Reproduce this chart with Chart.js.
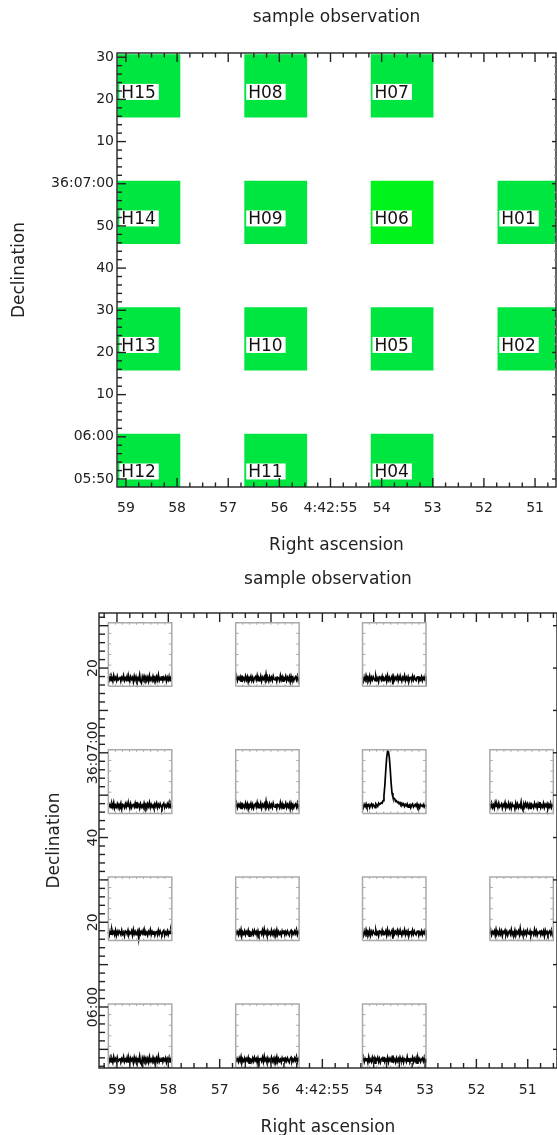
<!DOCTYPE html>
<html>
<head>
<meta charset="utf-8">
<script src="https://cdn.jsdelivr.net/npm/chart.js@4.4.0/dist/chart.umd.min.js"></script>
<style>
  html, body { margin: 0; padding: 0; background: #fff; }
  canvas { display: block; }
</style>
</head>
<body>
<canvas id="mapChart" width="557" height="563"></canvas>
<canvas id="specChart" width="557" height="572"></canvas>
<script>
// pointings: RA in seconds after 4:42:00, Dec in arcsec after 36:00:00
const beamNames = ["H01", "H02", "H04", "H05", "H06", "H07", "H08", "H09", "H10", "H11", "H12", "H13", "H14", "H15"];
const beamRA = [51.12, 51.12, 53.60, 53.60, 53.60, 53.60, 56.07, 56.07, 56.07, 56.07, 58.55, 58.55, 58.55, 58.55];
const beamDec = [413.2, 383.2, 353.2, 383.2, 413.2, 443.2, 443.2, 413.2, 383.2, 353.2, 353.2, 383.2, 413.2, 443.2];
const brightBeam = "H06";

const raTicks = [59, 58, 57, 56, 55, 54, 53, 52, 51];
const raTickLabels = ["59", "58", "57", "56", "4:42:55", "54", "53", "52", "51"];
const decTicks = [350, 360, 370, 380, 390, 400, 410, 420, 430, 440, 450];
const decTickLabels = ["05:50", "06:00", "10", "20", "30", "40", "50", "36:07:00", "10", "20", "30"];
const specDecTicks = [360, 380, 400, 420, 440];
const specDecLabels = ["06:00", "20", "40", "36:07:00", "20"];

// spectra, in percent of the H06 peak
const noiseA = [3, -2, 4, -3, 1, -4, 5, -1, 2, -3, 4, -2, 0, 3, -4, 2, -1, 5, -3, 1, -2, 4, -3, 2, -4, 3, -1, 2, -5, 4, -2, 3, -3, 1, -2, 6, -4, -7, 3, -2, 4, -1, 3, -3, 2, -4, 5, -2, 1, -3, 4, -1, 2, -4, 3, -2, 6, -3, 1, -2, 4, -3, 2, -1, 3, -4, 2, -2, 4, -3, 1, -1];
const noiseB = [-2, 4, -3, 2, -1, 3, -4, 5, -2, 1, -3, 4, -2, 3, -5, 2, 0, 4, -3, 2, -4, 1, 3, -2, 5, -3, 1, -2, 4, -4, 2, -1, 3, -3, 7, -2, 1, -4, 3, -2, 2, -3, 4, -1, -2, 3, -4, 2, 1, -3, 5, -2, 3, -4, 1, -1, 4, -3, 2, -2, 3, -5, 4, -1, 2, -3, 1, 3, -2, 4, -3, 2];
const noiseC = [1, -4, 3, -2, 5, -1, 2, -3, 4, -4, 2, -2, 3, 0, -3, 4, -2, 1, -5, 3, 2, -2, 4, -3, 1, -1, 3, -4, 5, -2, 2, -3, 1, 4, -9, 3, -2, 2, -1, 4, -3, 3, -2, 1, -4, 2, -1, 5, -3, 2, -2, 3, -4, 1, 2, -3, 4, -2, 3, -1, -3, 2, 4, -4, 1, -2, 3, -3, 2, -1, 4, -2];
const noiseD = [4, -1, 2, -3, 3, -2, 5, -4, 1, -2, 3, -3, 2, -1, 4, -5, 2, 1, -3, 3, -2, 4, -1, 2, -4, 3, -3, 1, 2, -2, 4, -3, 6, -1, 2, -4, 3, -2, 1, -3, 4, -2, 2, -4, 3, -1, 5, -3, 2, -2, 1, -4, 3, -1, 4, -3, 2, -2, 3, -1, -4, 2, 4, -3, 1, -2, 3, -1, 5, -3, 2, -2];
const lineH06 = [1, -3, 2, -1, 3, -2, 0, 2, -3, 1, 3, -2, 2, 0, -3, 3, 1, -1, 4, 2, 3, 5, 4, 8, 16, 32, 55, 75, 86, 85, 76, 58, 36, 20, 14, 12, 11, 7, 8, 5, 6, 3, 5, 2, 4, 1, 3, -1, 2, 0, 3, -2, 1, 2, -3, 1, 3, -2, 0, 2, -1, 3, -2, 1, -3, 2, 0, -1, 2, -2, 1, 0];
const beamSpectra = [noiseA, noiseB, noiseB, noiseC, lineH06, noiseC, noiseB, noiseB, noiseD, noiseD, noiseA, noiseC, noiseD, noiseA];
const specMin = -12;
const specMax = 88;

// beam footprint: 15" square
const halfRA = 0.618;
const halfDec = 7.5;

const FONT = "DejaVu Sans";
const INK = "#222";

const axisFrame = {
  id: "axisFrame",
  afterDraw(chart, args, o) {
    const { ctx, chartArea: a, scales: { x, y } } = chart;
    ctx.save();
    ctx.lineWidth = 1.4;
    ctx.strokeStyle = INK;
    ctx.strokeRect(a.left, a.top, a.right - a.left, a.bottom - a.top);
    const seg = (x0, y0, x1, y1, color) => {
      ctx.strokeStyle = color || INK;
      ctx.beginPath();
      ctx.moveTo(x0, y0);
      ctx.lineTo(x1, y1);
      ctx.stroke();
    };
    for (let q = Math.ceil(x.min * 4); q <= Math.floor(x.max * 4); q++) {
      const px = x.getPixelForValue(q / 4);
      const len = q % 4 === 0 ? o.major : o.minor;
      seg(px, a.bottom, px, a.bottom - len);
      seg(px, a.top, px, a.top + len);
    }
    for (let d = Math.ceil(y.min / 2) * 2; d <= y.max; d += 2) {
      const py = y.getPixelForValue(d);
      const major = d % 10 === 0;
      seg(a.left, py, a.left + (major ? o.major : o.leftMinor), py);
      if (major) seg(a.right, py, a.right - o.rightMajor, py);
      else if (o.rightMinor) seg(a.right, py, a.right - o.rightMinor, py, "#999");
    }
    ctx.restore();
  }
};

const beamLabels = {
  id: "beamLabels",
  afterDatasetsDraw(chart) {
    const { ctx, scales: { x, y } } = chart;
    ctx.save();
    ctx.font = "17px " + FONT;
    ctx.textBaseline = "alphabetic";
    beamNames.forEach((name, i) => {
      const left = x.getPixelForValue(beamRA[i] + halfRA);
      const cy = y.getPixelForValue(beamDec[i]);
      const w = ctx.measureText(name).width;
      ctx.fillStyle = "#fff";
      ctx.fillRect(left + 2, cy - 2, w + 5, 16);
      ctx.fillStyle = "#111";
      ctx.fillText(name, left + 4, cy + 11.8);
    });
    ctx.restore();
  }
};

const boxTicks = {
  id: "boxTicks",
  afterDatasetsDraw(chart) {
    const { ctx, scales: { x, y } } = chart;
    ctx.save();
    ctx.strokeStyle = "#aaa";
    ctx.lineWidth = 1;
    beamNames.forEach((name, i) => {
      const l = x.getPixelForValue(beamRA[i] + halfRA);
      const r = x.getPixelForValue(beamRA[i] - halfRA);
      const t = y.getPixelForValue(beamDec[i] + halfDec);
      const b = y.getPixelForValue(beamDec[i] - halfDec);
      ctx.beginPath();
      for (let k = 1; k < 9; k++) {
        const px = l + (r - l) * k / 9;
        ctx.moveTo(px, t); ctx.lineTo(px, t + 2);
        ctx.moveTo(px, b); ctx.lineTo(px, b - 2);
      }
      for (let k = 1; k < 6; k++) {
        const py = t + (b - t) * k / 6;
        ctx.moveTo(l, py); ctx.lineTo(l + 3, py);
        ctx.moveTo(r, py); ctx.lineTo(r - 3, py);
      }
      ctx.stroke();
    });
    ctx.restore();
  }
};

const specDecLabelsPlugin = {
  id: "specDecLabels",
  afterDraw(chart) {
    const { ctx, chartArea: a, scales: { y } } = chart;
    ctx.save();
    ctx.font = "14px " + FONT;
    ctx.fillStyle = INK;
    ctx.textAlign = "center";
    ctx.textBaseline = "alphabetic";
    specDecTicks.forEach((d, i) => {
      ctx.save();
      ctx.translate(a.left - 2, y.getPixelForValue(d));
      ctx.rotate(-Math.PI / 2);
      ctx.fillText(specDecLabels[i], 0, 0);
      ctx.restore();
    });
    ctx.restore();
  }
};

function raAxis(min, max, height, tickPad, titlePad, titleLH) {
  return {
    type: "linear",
    position: "bottom",
    reverse: true,
    min: min,
    max: max,
    grid: { display: false, drawTicks: false },
    border: { display: false },
    afterBuildTicks: (s) => { s.ticks = raTicks.map((v) => ({ value: v })); },
    afterFit: (s) => { s.height = height; },
    ticks: {
      autoSkip: false,
      maxRotation: 0,
      padding: tickPad,
      color: INK,
      font: { family: FONT, size: 14 },
      callback: (v, i) => raTickLabels[i]
    },
    title: {
      display: true,
      text: "Right ascension",
      color: INK,
      font: { family: FONT, size: 17, lineHeight: titleLH },
      padding: { top: 0, bottom: titlePad }
    }
  };
}

function decAxis(min, max, width, showTicks, titlePad) {
  return {
    type: "linear",
    position: "left",
    min: min,
    max: max,
    grid: { display: false, drawTicks: false },
    border: { display: false },
    afterBuildTicks: (s) => { s.ticks = decTicks.map((v) => ({ value: v })); },
    afterFit: (s) => { s.width = width; },
    ticks: {
      display: showTicks,
      autoSkip: false,
      padding: 3,
      color: INK,
      font: { family: FONT, size: 14 },
      callback: (v, i) => decTickLabels[i]
    },
    title: {
      display: true,
      text: "Declination",
      color: INK,
      font: { family: FONT, size: 17 },
      padding: { top: titlePad, bottom: 0 }
    }
  };
}

function titleOpts(top, bottom) {
  return {
    display: true,
    fullSize: false,
    text: "sample observation",
    color: INK,
    font: { family: FONT, size: 17, weight: "normal" },
    padding: { top: top, bottom: bottom }
  };
}

// top panel: beam footprints
new Chart(document.getElementById("mapChart"), {
  type: "line",
  data: {
    datasets: beamNames.map((name, i) => ({
      label: name,
      data: [
        { x: beamRA[i] + halfRA, y: beamDec[i] + halfDec },
        { x: beamRA[i] - halfRA, y: beamDec[i] + halfDec }
      ],
      fill: { value: beamDec[i] - halfDec },
      backgroundColor: name === brightBeam ? "#00f41c" : "#00e640",
      borderWidth: 0,
      pointRadius: 0
    }))
  },
  options: {
    responsive: false,
    animation: false,
    events: [],
    layout: { padding: 0 },
    plugins: {
      legend: { display: false },
      tooltip: { enabled: false },
      title: titleOpts(7.4, 25.2),
      axisFrame: { major: 9, minor: 4.5, leftMinor: 5, rightMajor: 4, rightMinor: 2 }
    },
    scales: {
      x: raAxis(50.59, 59.175, 76, 13, 6.8, 1.2),
      y: decAxis(348.1, 451, 117, true, 9.3)
    }
  },
  plugins: [beamLabels, axisFrame]
});

// bottom panel: spectra at each beam
const specSets = [];
beamNames.forEach((name, i) => {
  const l = beamRA[i] + halfRA, r = beamRA[i] - halfRA;
  const b = beamDec[i] - halfDec, t = beamDec[i] + halfDec;
  specSets.push({
    label: name + " box",
    data: [{ x: l, y: b }, { x: l, y: t }, { x: r, y: t }, { x: r, y: b }, { x: l, y: b }],
    borderColor: "#aaa",
    borderWidth: 1.5,
    pointRadius: 0,
    fill: false
  });
  const spec = beamSpectra[i];
  specSets.push({
    label: name,
    data: spec.map((v, k) => ({
      x: l - (l - r) * k / (spec.length - 1),
      y: b + (t - b) * (v - specMin) / (specMax - specMin)
    })),
    borderColor: "#000",
    borderWidth: 1.7,
    pointRadius: 0,
    fill: false
  });
});

new Chart(document.getElementById("specChart"), {
  type: "line",
  data: { datasets: specSets },
  options: {
    responsive: false,
    animation: false,
    events: [],
    layout: { padding: 0 },
    plugins: {
      legend: { display: false },
      tooltip: { enabled: false },
      title: titleOpts(6.3, 23.3),
      axisFrame: { major: 9, minor: 5, leftMinor: 6, rightMajor: 4, rightMinor: 0 }
    },
    scales: {
      x: raAxis(50.43, 59.35, 67, 14, 0, 0.85),
      y: decAxis(345.6, 453, 99, false, 44.3)
    }
  },
  plugins: [boxTicks, axisFrame, specDecLabelsPlugin]
});
</script>
</body>
</html>
